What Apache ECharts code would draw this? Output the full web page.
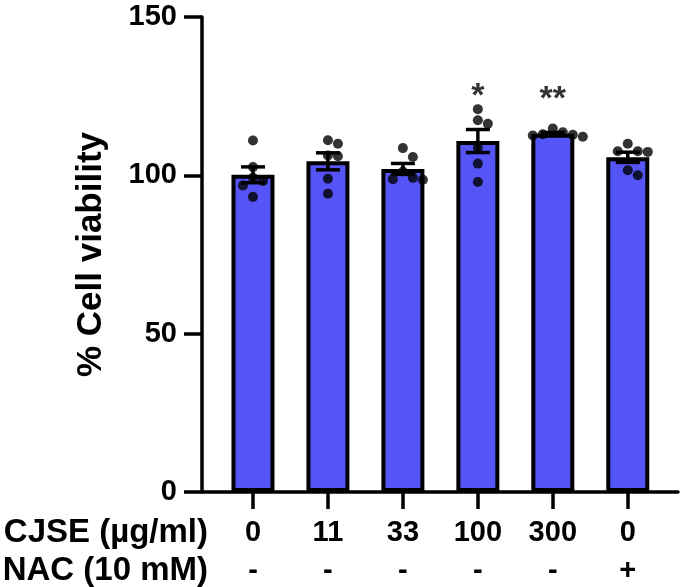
<!DOCTYPE html>
<html>
<head>
<meta charset="utf-8">
<script src="https://cdn.jsdelivr.net/npm/echarts@6/dist/echarts.min.js"></script>
<style>
html,body{margin:0;padding:0;background:#fff;}
#chart{width:685px;height:587px;}
</style>
</head>
<body>
<div id="chart"></div>
<script>
// ---- data ----
const categories = ['0', '11', '33', '100', '300', '0'];
const nacLabels = ['-', '-', '-', '-', '-', '+'];
const rowHeaders = ['CJSE (\u00b5g/ml)', 'NAC (10 mM)'];
const yTicks = [0, 50, 100, 150];
const g0 = [111.0, 102.6, 99.2, 98.2, 96.8, 93.2];
const g1 = [111.1, 110.0, 106.3, 106.0, 98.9, 94.2];
const g2 = [108.6, 105.8, 101.2, 99.2, 98.8, 98.6];
const g3 = [120.9, 117.4, 116.3, 108.8, 103.7, 97.9];
const g4 = [114.8, 113.6, 113.0, 112.8, 112.6, 112.2];
const g5 = [110.0, 107.6, 107.6, 107.4, 101.6, 100.0];
const significance = ['', '', '', '*', '**', ''];
const yName = '% Cell viability';

const groups = [g0, g1, g2, g3, g4, g5];

// ---- layout ----
const W = 685, H = 587;
const gridLeft = 202, gridRight = 7, gridTop = 17, gridBottom = 95;
const xMin = -0.68, xMax = 5.67;
const yMin = yTicks[0], yMax = yTicks[yTicks.length - 1];
const pxPerX = (W - gridLeft - gridRight) / (xMax - xMin);
const pxPerY = (H - gridTop - gridBottom) / (yMax - yMin);
const dotD = 9.5;     // collision distance (px)
const stepPx = 10;    // horizontal step (px)
const sigGap = 10.5;  // annotation gap above error bar (axis units)
const FONT = "'Liberation Sans', Arial, Helvetica, sans-serif";

function mean(a) { return a.reduce((s, v) => s + v, 0) / a.length; }
function sem(a) {
  const m = mean(a);
  const v = a.reduce((s, x) => s + (x - m) * (x - m), 0) / (a.length - 1);
  return Math.sqrt(v) / Math.sqrt(a.length);
}

// simple beeswarm spread of points
const dots = [];
groups.forEach((g, i) => {
  const sorted = g.slice().sort((a, b) => b - a);
  const placed = [];
  sorted.forEach(v => {
    const cands = [0];
    for (let k = 1; k < 6; k++) { cands.push(k, -k); }
    for (const c of cands) {
      const dxp = c * stepPx;
      const ok = placed.every(p => {
        const dx = dxp - p.dx, dy = (v - p.v) * pxPerY;
        return Math.sqrt(dx * dx + dy * dy) >= dotD;
      });
      if (ok) { placed.push({ v: v, dx: dxp }); break; }
    }
  });
  placed.forEach(p => dots.push([i + p.dx / pxPerX, p.v]));
});

const barData = groups.map((g, i) => [i, mean(g)]);
const errData = groups.map((g, i) => [i, mean(g), sem(g)]);
const sigData = groups.map((g, i) => [i, mean(g) + sem(g) + sigGap, significance[i]]);

const chart = echarts.init(document.getElementById('chart'), null, { renderer: 'canvas' });
const option = {
  animation: false,
  backgroundColor: '#ffffff',
  grid: { left: gridLeft, right: gridRight, top: gridTop, bottom: gridBottom },
  xAxis: {
    type: 'value', min: xMin, max: xMax,
    splitLine: { show: false },
    axisLine: { show: true, onZero: false, lineStyle: { color: '#000', width: 3.5 } },
    axisTick: { show: true, length: 17, lineStyle: { color: '#000', width: 3.5 },
      customValues: categories.map((c, i) => i) },
    axisLabel: {
      show: true, margin: 22,
      customValues: categories.map((c, i) => i),
      formatter: function (v) {
        const i = Math.round(v);
        return '{a|' + categories[i] + '}\n{a|' + nacLabels[i] + '}';
      },
      rich: { a: { fontFamily: FONT, fontWeight: 'bold', fontSize: 29, color: '#000', lineHeight: 38 } }
    }
  },
  yAxis: {
    type: 'value', min: yMin, max: yMax, interval: 50,
    name: yName, nameLocation: 'middle', nameRotate: 90, nameGap: 93,
    nameTextStyle: { fontFamily: FONT, fontWeight: 'bold', fontSize: 35, color: '#000' },
    splitLine: { show: false },
    axisLine: { show: true, onZero: false, lineStyle: { color: '#000', width: 3.5 } },
    axisTick: { show: true, length: 18, lineStyle: { color: '#000', width: 3.5 } },
    axisLabel: { margin: 25, fontFamily: FONT, fontWeight: 'bold', fontSize: 29, color: '#000' }
  },
  graphic: rowHeaders.map((t, k) => ({
    type: 'text',
    style: {
      text: t, x: 208, y: 533 + k * 38, textAlign: 'right', textVerticalAlign: 'middle',
      fontFamily: FONT, fontWeight: 'bold', fontSize: 33, fill: '#000'
    }
  })),
  series: [
    {
      type: 'bar', data: barData, barWidth: 43, z: 2,
      itemStyle: { color: '#5454F7', borderColor: '#000', borderWidth: 4 }
    },
    {
      type: 'custom', data: errData, z: 3,
      renderItem: function (params, api) {
        const x = api.value(0), m = api.value(1), s = api.value(2);
        const top = api.coord([x, m + s]);
        const bot = api.coord([x, m - s]);
        const hw = 12;
        const st = { stroke: '#000', lineWidth: 3.5 };
        return {
          type: 'group', children: [
            { type: 'line', shape: { x1: top[0], y1: top[1], x2: bot[0], y2: bot[1] }, style: st },
            { type: 'line', shape: { x1: top[0] - hw, y1: top[1], x2: top[0] + hw, y2: top[1] }, style: st },
            { type: 'line', shape: { x1: bot[0] - hw, y1: bot[1], x2: bot[0] + hw, y2: bot[1] }, style: st }
          ]
        };
      }
    },
    {
      type: 'scatter', data: dots, symbol: 'circle', symbolSize: 10, z: 4,
      itemStyle: { color: '#000' }
    },
    {
      type: 'scatter', data: sigData, symbolSize: 0, z: 5,
      label: {
        show: true, position: 'inside',
        formatter: function (p) { return p.value[2]; },
        fontFamily: FONT, fontWeight: 'bold', fontSize: 34, color: '#000'
      }
    }
  ]
};
chart.setOption(option);
</script>
</body>
</html>
